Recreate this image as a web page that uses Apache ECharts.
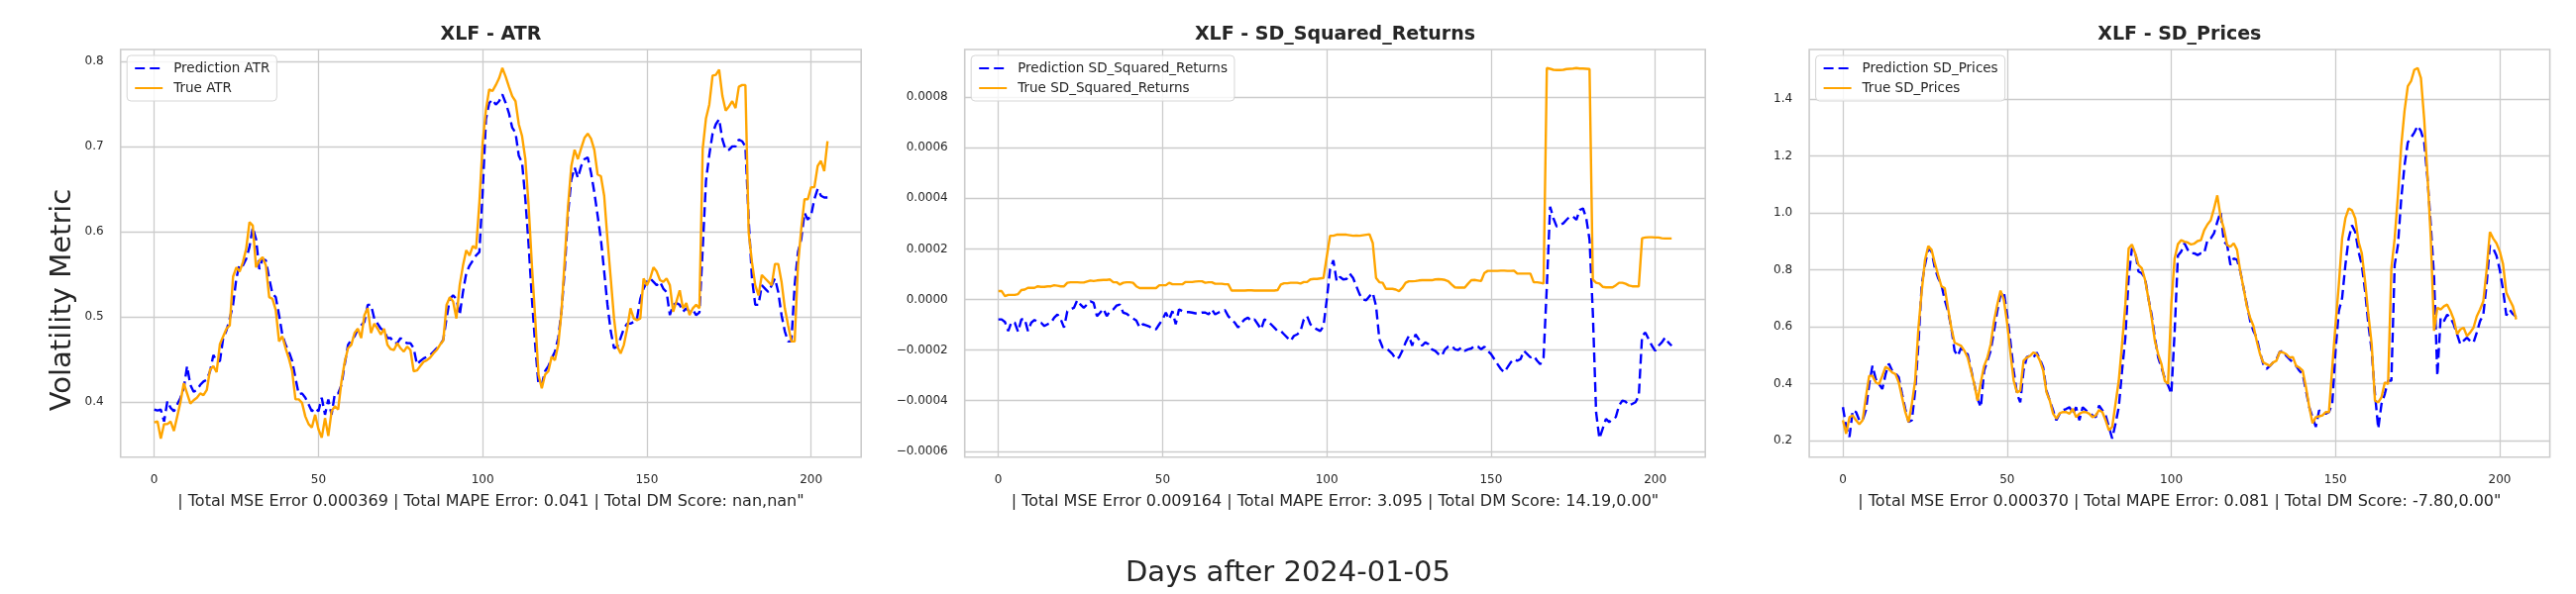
<!DOCTYPE html>
<html>
<head>
<meta charset="utf-8">
<script src="https://cdn.jsdelivr.net/npm/echarts@6/dist/echarts.min.js"></script>
<style>
html,body{margin:0;padding:0;background:#ffffff;}
#chart{width:2600px;height:600px;}
</style>
</head>
<body>
<div id="chart"></div>
<script>
// ---------- DATA ----------
const days = Array.from({length: 206}, (_, i) => i);

const xTicks = [0, 50, 100, 150, 200];
const atrTicks = [0.4, 0.5, 0.6, 0.7, 0.8];
const sqTicks = [-0.0006, -0.0004, -0.0002, 0, 0.0002, 0.0004, 0.0006, 0.0008];
const priceTicks = [0.2, 0.4, 0.6, 0.8, 1.0, 1.2, 1.4];

const panelTitles = ['XLF - ATR', 'XLF - SD_Squared_Returns', 'XLF - SD_Prices'];
const panelXLabels = [
  '| Total MSE Error 0.000369 | Total MAPE Error: 0.041 | Total DM Score: nan,nan"',
  '| Total MSE Error 0.009164 | Total MAPE Error: 3.095 | Total DM Score: 14.19,0.00"',
  '| Total MSE Error 0.000370 | Total MAPE Error: 0.081 | Total DM Score: -7.80,0.00"'
];
const predNames = ['Prediction ATR', 'Prediction SD_Squared_Returns', 'Prediction SD_Prices'];
const trueNames = ['True ATR', 'True SD_Squared_Returns', 'True SD_Prices'];
const yAxisTitle = 'Volatility Metric';
const xAxisTitle = 'Days after 2024-01-05';

const atrPred = [
0.391,0.390,0.391,0.377,0.401,0.393,0.389,0.397,0.405,0.416,
0.442,0.420,0.412,0.414,0.420,0.424,0.426,0.436,0.455,0.448,
0.448,0.475,0.484,0.498,0.514,0.545,0.562,0.560,0.568,0.582,
0.605,0.591,0.556,0.568,0.566,0.545,0.527,0.523,0.502,0.479,
0.467,0.459,0.448,0.428,0.409,0.410,0.405,0.397,0.389,0.393,
0.389,0.405,0.385,0.403,0.385,0.410,0.410,0.420,0.444,0.467,
0.473,0.477,0.486,0.490,0.494,0.514,0.514,0.498,0.492,0.486,
0.484,0.475,0.475,0.469,0.469,0.475,0.471,0.469,0.469,0.463,
0.444,0.448,0.451,0.453,0.455,0.459,0.463,0.467,0.473,0.498,
0.521,0.525,0.521,0.502,0.529,0.551,0.560,0.566,0.572,0.576,
0.646,0.732,0.751,0.755,0.749,0.753,0.761,0.751,0.739,0.722,
0.716,0.689,0.681,0.638,0.584,0.521,0.467,0.420,0.420,0.436,
0.442,0.451,0.459,0.475,0.506,0.556,0.622,0.661,0.675,0.663,
0.677,0.685,0.687,0.669,0.646,0.619,0.591,0.553,0.514,0.483,
0.463,0.465,0.475,0.486,0.492,0.492,0.494,0.498,0.521,0.533,
0.541,0.545,0.541,0.537,0.541,0.533,0.529,0.502,0.514,0.516,
0.514,0.506,0.510,0.506,0.508,0.502,0.505,0.580,0.660,0.690,
0.715,0.726,0.732,0.708,0.696,0.696,0.700,0.700,0.708,0.706,
0.700,0.614,0.545,0.514,0.514,0.537,0.533,0.529,0.537,0.545,
0.529,0.502,0.483,0.471,0.471,0.537,0.576,0.591,0.622,0.614,
0.619,0.638,0.650,0.642,0.640,0.640
];
const atrTrue = [
0.376,0.377,0.357,0.374,0.374,0.377,0.366,0.383,0.400,0.422,
0.410,0.398,0.402,0.405,0.410,0.408,0.414,0.438,0.442,0.435,
0.468,0.477,0.486,0.490,0.547,0.558,0.553,0.564,0.580,0.611,
0.607,0.558,0.566,0.570,0.560,0.523,0.521,0.508,0.471,0.477,
0.463,0.451,0.436,0.403,0.403,0.399,0.383,0.374,0.370,0.385,
0.368,0.358,0.381,0.360,0.389,0.395,0.391,0.424,0.447,0.463,
0.467,0.481,0.486,0.475,0.502,0.510,0.481,0.492,0.486,0.479,
0.486,0.467,0.462,0.461,0.469,0.463,0.459,0.465,0.461,0.436,
0.437,0.442,0.447,0.449,0.452,0.457,0.461,0.467,0.472,0.514,
0.523,0.518,0.498,0.537,0.560,0.578,0.572,0.583,0.580,0.634,
0.704,0.743,0.767,0.765,0.772,0.780,0.792,0.782,0.770,0.759,
0.753,0.726,0.712,0.685,0.630,0.560,0.498,0.432,0.416,0.432,
0.436,0.453,0.449,0.467,0.506,0.568,0.630,0.677,0.696,0.685,
0.698,0.710,0.715,0.709,0.696,0.667,0.665,0.642,0.591,0.545,
0.498,0.465,0.457,0.467,0.486,0.510,0.498,0.496,0.498,0.545,
0.537,0.545,0.558,0.553,0.543,0.541,0.545,0.537,0.506,0.518,
0.531,0.510,0.516,0.502,0.510,0.514,0.510,0.697,0.733,0.749,
0.783,0.784,0.790,0.759,0.742,0.747,0.753,0.745,0.770,0.772,
0.772,0.599,0.564,0.537,0.525,0.549,0.545,0.541,0.537,0.562,
0.562,0.541,0.510,0.490,0.471,0.471,0.560,0.603,0.638,0.638,
0.652,0.652,0.677,0.683,0.671,0.706
];

const sqPred = [
-7.9e-5,-7.9e-5,-8.9e-5,-1.25e-4,-8.9e-5,-9.2e-5,-1.28e-4,-7.9e-5,-7.6e-5,-1.25e-4,
-9.2e-5,-8.1e-5,-8.9e-5,-9.2e-5,-1.05e-4,-9.8e-5,-9.2e-5,-7.2e-5,-5.9e-5,-7.9e-5,
-1.11e-4,-4.6e-5,-3.9e-5,-3.3e-5,-3e-6,-2.0e-5,-3.3e-5,-2.0e-5,-7e-6,-1.3e-5,
-6.6e-5,-5.2e-5,-3.7e-5,-6.6e-5,-4.6e-5,-3.9e-5,-2.4e-5,-2.0e-5,-5.2e-5,-5.6e-5,
-6.6e-5,-7.5e-5,-8.3e-5,-1.11e-4,-9.8e-5,-1.02e-4,-1.07e-4,-1.18e-4,-1.18e-4,-9.8e-5,
-7.9e-5,-5.2e-5,-7.9e-5,-4.6e-5,-9.8e-5,-3.9e-5,-4.6e-5,-5.0e-5,-5.0e-5,-5.2e-5,
-5.5e-5,-5.5e-5,-5.2e-5,-5.2e-5,-5.9e-5,-3.9e-5,-5.9e-5,-5.2e-5,-4.6e-5,-4.2e-5,
-6.6e-5,-7.9e-5,-9.2e-5,-1.11e-4,-9.2e-5,-7.9e-5,-7.2e-5,-8.5e-5,-7.9e-5,-9.8e-5,
-1.18e-4,-7.9e-5,-8.5e-5,-9.8e-5,-1.11e-4,-1.25e-4,-1.25e-4,-1.38e-4,-1.51e-4,-1.64e-4,
-1.44e-4,-1.38e-4,-1.25e-4,-7.9e-5,-6.6e-5,-9.8e-5,-1.11e-4,-1.18e-4,-1.25e-4,-1.05e-4,
0,1.2e-4,1.55e-4,7.2e-5,8.9e-5,7.9e-5,8.1e-5,1.02e-4,8.5e-5,5.2e-5,
2.0e-5,0,-3e-6,1.3e-5,2.6e-5,-2.6e-5,-1.57e-4,-1.9e-4,-1.9e-4,-2.03e-4,
-2.16e-4,-2.36e-4,-2.29e-4,-2.03e-4,-1.7e-4,-1.44e-4,-1.83e-4,-1.38e-4,-1.57e-4,-1.83e-4,
-1.7e-4,-1.77e-4,-1.97e-4,-2.03e-4,-2.16e-4,-2.23e-4,-1.97e-4,-1.86e-4,-1.83e-4,-1.97e-4,
-2.0e-4,-1.9e-4,-2.03e-4,-1.97e-4,-1.94e-4,-1.83e-4,-1.86e-4,-1.97e-4,-1.87e-4,-2.03e-4,
-2.16e-4,-2.36e-4,-2.56e-4,-2.75e-4,-2.88e-4,-2.69e-4,-2.49e-4,-2.36e-4,-2.42e-4,-2.36e-4,
-2.03e-4,-2.16e-4,-2.29e-4,-2.23e-4,-2.42e-4,-2.56e-4,-2.29e-4,5.2e-5,3.67e-4,3.21e-4,
2.88e-4,2.95e-4,3.01e-4,3.15e-4,3.28e-4,3.28e-4,3.15e-4,3.54e-4,3.6e-4,3.21e-4,
2.36e-4,-5.2e-5,-4.46e-4,-5.5e-4,-5.11e-4,-4.72e-4,-4.85e-4,-4.72e-4,-4.65e-4,-4.19e-4,
-4.0e-4,-4.04e-4,-4.19e-4,-4.13e-4,-4.06e-4,-3.8e-4,-1.44e-4,-1.31e-4,-1.57e-4,-1.83e-4,
-2.03e-4,-1.83e-4,-1.7e-4,-1.51e-4,-1.7e-4,-1.83e-4
];
const sqTrue = [
3.3e-5,3.3e-5,1.3e-5,1.8e-5,1.8e-5,1.8e-5,2.1e-5,3.7e-5,3.9e-5,4.6e-5,
4.6e-5,4.6e-5,5.2e-5,5.0e-5,5.0e-5,5.2e-5,5.2e-5,5.6e-5,5.4e-5,5.2e-5,
5.2e-5,6.6e-5,6.8e-5,6.8e-5,6.8e-5,6.7e-5,6.7e-5,7.1e-5,7.5e-5,7.3e-5,
7.5e-5,7.6e-5,7.7e-5,7.7e-5,7.9e-5,6.8e-5,6.8e-5,5.9e-5,6.6e-5,6.8e-5,
6.8e-5,6.6e-5,5.2e-5,4.5e-5,4.5e-5,4.5e-5,4.5e-5,4.5e-5,4.5e-5,5.6e-5,
5.6e-5,5.6e-5,6.6e-5,6.0e-5,6.0e-5,6.0e-5,6.0e-5,6.9e-5,6.9e-5,6.9e-5,
7.1e-5,7.2e-5,7.2e-5,6.6e-5,6.8e-5,6.8e-5,6.2e-5,6.2e-5,6.2e-5,6.0e-5,
6.0e-5,3.5e-5,3.5e-5,3.5e-5,3.5e-5,3.5e-5,3.6e-5,3.6e-5,3.5e-5,3.5e-5,
3.5e-5,3.5e-5,3.5e-5,3.5e-5,3.5e-5,3.7e-5,5.9e-5,6.4e-5,6.4e-5,6.6e-5,
6.6e-5,6.6e-5,6.3e-5,6.9e-5,6.9e-5,7.9e-5,8.1e-5,8.1e-5,8.3e-5,8.5e-5,
1.7e-4,2.52e-4,2.52e-4,2.56e-4,2.56e-4,2.56e-4,2.56e-4,2.54e-4,2.52e-4,2.53e-4,
2.52e-4,2.54e-4,2.56e-4,2.58e-4,2.23e-4,8.5e-5,6.8e-5,6.6e-5,4.2e-5,4.2e-5,
4.2e-5,3.9e-5,3.3e-5,4.6e-5,6.6e-5,7.2e-5,7.2e-5,7.3e-5,7.5e-5,7.6e-5,
7.6e-5,7.6e-5,7.6e-5,7.9e-5,8.0e-5,7.9e-5,7.7e-5,7.2e-5,5.9e-5,4.8e-5,
4.7e-5,4.7e-5,4.7e-5,6.2e-5,7.6e-5,7.7e-5,7.5e-5,7.3e-5,1.05e-4,1.13e-4,
1.13e-4,1.13e-4,1.13e-4,1.14e-4,1.14e-4,1.13e-4,1.13e-4,1.14e-4,1.02e-4,1.02e-4,
1.02e-4,1.02e-4,1.02e-4,6.8e-5,6.8e-5,6.6e-5,6.3e-5,9.15e-4,9.12e-4,9.08e-4,
9.07e-4,9.07e-4,9.08e-4,9.11e-4,9.12e-4,9.13e-4,9.15e-4,9.13e-4,9.13e-4,9.12e-4,
9.11e-4,7.9e-5,6.6e-5,6.3e-5,5.0e-5,4.8e-5,4.8e-5,4.8e-5,5.6e-5,6.6e-5,
6.6e-5,6.2e-5,5.5e-5,5.2e-5,5.2e-5,5.2e-5,2.42e-4,2.45e-4,2.46e-4,2.46e-4,
2.45e-4,2.45e-4,2.42e-4,2.41e-4,2.41e-4,2.41e-4
];

const pricePred = [
0.318,0.249,0.214,0.307,0.301,0.272,0.272,0.307,0.399,0.463,
0.417,0.399,0.382,0.434,0.471,0.446,0.437,0.423,0.365,0.312,
0.266,0.272,0.376,0.539,0.748,0.817,0.875,0.864,0.806,0.771,
0.748,0.695,0.655,0.597,0.516,0.498,0.527,0.510,0.504,0.452,
0.399,0.347,0.318,0.446,0.481,0.516,0.585,0.655,0.713,0.724,
0.643,0.550,0.446,0.365,0.335,0.446,0.494,0.498,0.492,0.510,
0.486,0.457,0.376,0.341,0.307,0.272,0.295,0.307,0.312,0.318,
0.295,0.318,0.272,0.318,0.307,0.301,0.289,0.283,0.324,0.307,
0.289,0.249,0.208,0.260,0.318,0.446,0.562,0.771,0.875,0.864,
0.794,0.788,0.771,0.701,0.643,0.562,0.492,0.457,0.420,0.395,
0.365,0.580,0.850,0.864,0.893,0.870,0.858,0.858,0.852,0.858,
0.858,0.904,0.910,0.928,0.968,1.003,0.899,0.887,0.817,0.840,
0.835,0.794,0.736,0.678,0.620,0.585,0.562,0.510,0.469,0.452,
0.463,0.475,0.486,0.512,0.516,0.498,0.486,0.475,0.463,0.446,
0.434,0.376,0.318,0.283,0.249,0.307,0.297,0.295,0.301,0.330,
0.516,0.655,0.701,0.817,0.910,0.956,0.933,0.864,0.817,0.724,
0.608,0.516,0.365,0.243,0.330,0.365,0.411,0.411,0.817,0.887,
1.049,1.166,1.247,1.264,1.282,1.305,1.287,1.247,1.120,0.957,
0.773,0.428,0.632,0.620,0.643,0.632,0.608,0.574,0.539,0.551,
0.562,0.550,0.544,0.580,0.620,0.643,0.750,0.885,0.875,0.850,
0.800,0.730,0.640,0.660,0.645,0.635
];
const priceTrue = [
0.272,0.225,0.283,0.289,0.272,0.258,0.272,0.353,0.428,0.428,
0.405,0.399,0.428,0.460,0.452,0.440,0.434,0.405,0.353,0.301,
0.266,0.330,0.411,0.597,0.724,0.835,0.883,0.870,0.823,0.782,
0.742,0.736,0.666,0.597,0.545,0.539,0.533,0.516,0.492,0.446,
0.399,0.341,0.405,0.463,0.492,0.539,0.620,0.678,0.727,0.695,
0.614,0.510,0.411,0.370,0.376,0.481,0.492,0.498,0.510,0.504,
0.481,0.446,0.370,0.341,0.295,0.278,0.297,0.301,0.301,0.295,
0.312,0.283,0.295,0.301,0.301,0.295,0.283,0.289,0.308,0.301,
0.272,0.237,0.249,0.330,0.411,0.539,0.678,0.875,0.889,0.858,
0.817,0.806,0.765,0.701,0.632,0.550,0.504,0.469,0.410,0.400,
0.680,0.840,0.890,0.904,0.899,0.896,0.889,0.892,0.901,0.904,
0.939,0.959,0.974,1.015,1.061,0.986,0.945,0.887,0.881,0.893,
0.870,0.794,0.736,0.672,0.632,0.603,0.550,0.504,0.475,0.469,
0.463,0.475,0.481,0.512,0.510,0.504,0.492,0.494,0.463,0.457,
0.446,0.388,0.318,0.262,0.283,0.286,0.289,0.301,0.301,0.457,
0.609,0.748,0.910,0.981,1.015,1.009,0.981,0.899,0.858,0.759,
0.643,0.539,0.341,0.335,0.353,0.405,0.399,0.806,0.910,1.061,
1.235,1.357,1.444,1.462,1.502,1.508,1.473,1.328,1.131,0.910,
0.586,0.667,0.661,0.672,0.678,0.655,0.626,0.574,0.591,0.597,
0.568,0.580,0.597,0.637,0.661,0.690,0.800,0.933,0.910,0.893,
0.865,0.820,0.720,0.695,0.672,0.626
];

// ---------- CHART ----------
const FONT = 'DejaVu Sans';
const TXT = '#262626';
const GRIDC = '#cccccc';
const panelLeft = [121.7, 973.7, 1826.1];
const GRID_TOP = 50, GRID_W = 747.5, GRID_H = 411.7;
const LINE_W = 2.4;

const predSets = [atrPred, sqPred, pricePred];
const trueSets = [atrTrue, sqTrue, priceTrue];
const yTickSets = [atrTicks, sqTicks, priceTicks];
const yFormatters = [
  v => v.toFixed(1),
  v => (Math.abs(v) < 1e-12 ? '0.0000' : (v < 0 ? '\u2212' + Math.abs(v).toFixed(4) : v.toFixed(4))),
  v => v.toFixed(1)
];

const padMin = v => v.min - 0.05 * (v.max - v.min);
const padMax = v => v.max + 0.05 * (v.max - v.min);

const grids = [], xAxes = [], yAxes = [], series = [], legends = [], graphics = [];

for (let i = 0; i < 3; i++) {
  grids.push({
    left: panelLeft[i], top: GRID_TOP, width: GRID_W, height: GRID_H,
    show: true, borderColor: GRIDC, borderWidth: 1.6, backgroundColor: 'transparent',
    containLabel: false, outerBoundsMode: 'none'
  });
  xAxes.push({
    type: 'value', gridIndex: i, min: padMin, max: padMax,
    axisLine: { show: false },
    axisTick: { show: false, customValues: xTicks },
    axisLabel: { customValues: xTicks, margin: 17, fontSize: 12, color: TXT, fontFamily: FONT,
                 formatter: v => String(Math.round(v)) },
    splitLine: { show: true, lineStyle: { color: GRIDC, width: 1.3 } }
  });
  yAxes.push({
    type: 'value', gridIndex: i, min: padMin, max: padMax,
    axisLine: { show: false },
    axisTick: { show: false, customValues: yTickSets[i] },
    axisLabel: { customValues: yTickSets[i], margin: 17, fontSize: 12, color: TXT, fontFamily: FONT,
                 formatter: yFormatters[i] },
    splitLine: { show: true, lineStyle: { color: GRIDC, width: 1.3 } }
  });
  series.push({
    name: predNames[i], type: 'line', xAxisIndex: i, yAxisIndex: i,
    data: days.map((d, k) => [d, predSets[i][k]]),
    symbol: 'none', showSymbol: false, smooth: false, z: 2,
    lineStyle: { color: '#0000ff', width: LINE_W, type: [10, 5], cap: 'butt' },
    itemStyle: { color: '#0000ff' }
  });
  series.push({
    name: trueNames[i], type: 'line', xAxisIndex: i, yAxisIndex: i,
    data: days.map((d, k) => [d, trueSets[i][k]]),
    symbol: 'none', showSymbol: false, smooth: false, z: 3,
    lineStyle: { color: '#ffa500', width: LINE_W, type: 'solid' },
    itemStyle: { color: '#ffa500' }
  });
  legends.push({
    data: [predNames[i], trueNames[i]],
    left: panelLeft[i] + 6.5, top: 56, orient: 'vertical',
    itemWidth: 28, itemHeight: 14, itemGap: 6,
    padding: [6, 7, 6, 7],
    borderColor: '#d6d6d6', borderWidth: 1, borderRadius: 4,
    backgroundColor: 'rgba(255,255,255,0.8)',
    selectedMode: false,
    itemStyle: { color: 'rgba(0,0,0,0)', borderColor: 'rgba(0,0,0,0)', borderWidth: 0, opacity: 0 },
    textStyle: { fontSize: 13.5, color: TXT, fontFamily: FONT, padding: [0, 0, 0, 6] }
  });
  const cx = panelLeft[i] + GRID_W / 2;
  graphics.push({
    type: 'text', x: cx, y: 35, z: 10,
    style: { text: panelTitles[i], fill: TXT, font: 'bold 19px "DejaVu Sans"',
             textAlign: 'center', textVerticalAlign: 'middle', align: 'center', verticalAlign: 'middle' }
  });
  graphics.push({
    type: 'text', x: cx, y: 507, z: 10,
    style: { text: panelXLabels[i], fill: TXT, font: '16px "DejaVu Sans"',
             textAlign: 'center', textVerticalAlign: 'middle', align: 'center', verticalAlign: 'middle' }
  });
}

graphics.push({
  type: 'text', x: 63.5, y: 303, rotation: Math.PI / 2, z: 10,
  style: { text: yAxisTitle, fill: TXT, font: '29px "DejaVu Sans"',
           textAlign: 'center', textVerticalAlign: 'middle', align: 'center', verticalAlign: 'middle' }
});
graphics.push({
  type: 'text', x: 1300, y: 579.5, z: 10,
  style: { text: xAxisTitle, fill: TXT, font: '29px "DejaVu Sans"',
           textAlign: 'center', textVerticalAlign: 'middle', align: 'center', verticalAlign: 'middle' }
});

const chart = echarts.init(document.getElementById('chart'), null, { renderer: 'canvas' });
chart.setOption({
  animation: false,
  backgroundColor: '#ffffff',
  textStyle: { fontFamily: FONT },
  grid: grids,
  xAxis: xAxes,
  yAxis: yAxes,
  legend: legends,
  series: series,
  graphic: graphics
});
</script>
</body>
</html>
